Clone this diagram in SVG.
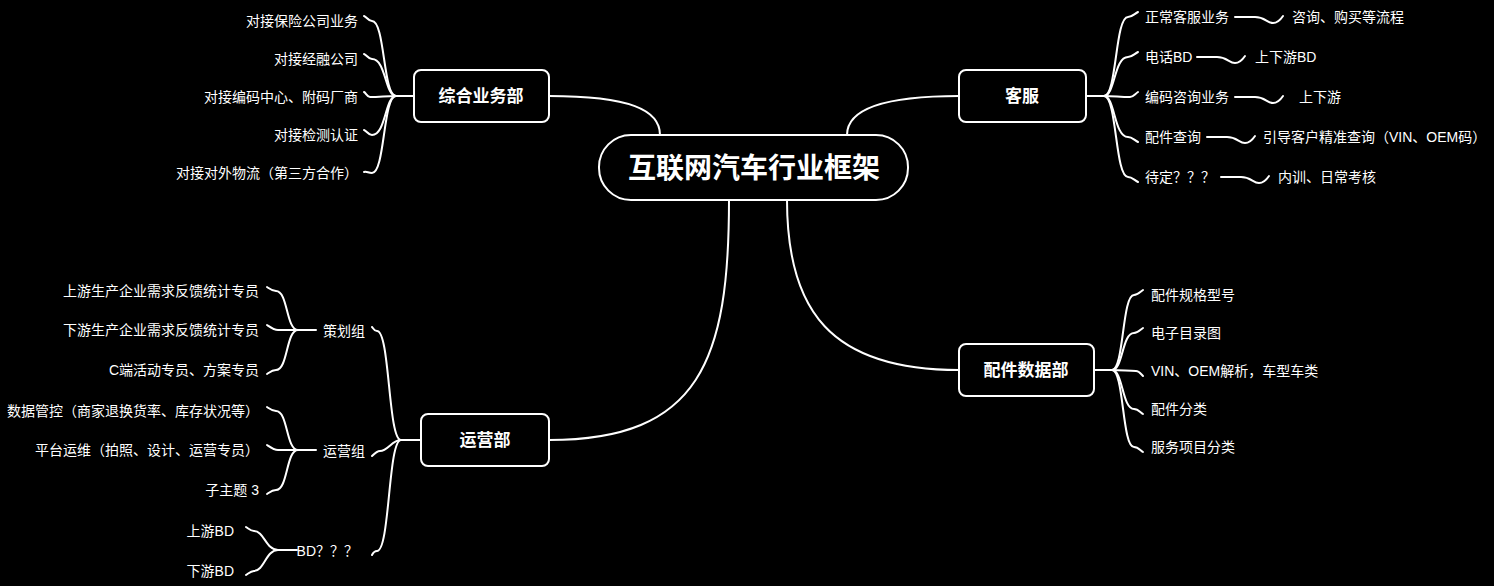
<svg xmlns="http://www.w3.org/2000/svg" width="1494" height="586" viewBox="0 0 1494 586">
<style>
text{font-family:"Liberation Sans","Noto Sans CJK SC",sans-serif;fill:#fff;font-size:14px}
.n{fill:#000;stroke:#fff;stroke-width:2}
.t{font-size:17px;font-weight:bold;text-anchor:middle}
.r{text-anchor:end}
path{fill:none;stroke:#fff;stroke-width:2;stroke-linecap:round}
</style>
<rect width="1494" height="586" fill="#000"/>
<g id="connectors">
<path d="M660,135 C660,110 630,96 549,96"/>
<path d="M847,135 C847,110 880,96 959,96"/>
<path d="M787,200 C787,310 830,370 959,370"/>
<path d="M729,200 C729,360 700,440 549,440"/>
<path d="M414,96 L396,96 C383,96 385,21 372,21 C368,21 367,17 364,16"/>
<path d="M396,96 C385,96 386,59 372,59 C368,59 367,55 364,54"/>
<path d="M396,96 C386,96 380,97 370,97 C367,97 366,93 364,92"/>
<path d="M396,96 C385,96 386,135 372,135 C368,135 367,131 364,130"/>
<path d="M396,96 C383,96 385,173 372,173 C368,173 367,171 364,172"/>
<path d="M1086,96 L1104,96 C1117,96 1115,17 1128,17 C1132,17 1134,14 1138,12"/>
<path d="M1104,96 C1115,96 1114,57 1128,57 C1132,57 1134,54 1138,52"/>
<path d="M1104,96 C1114,96 1120,97 1130,97 C1133,97 1135,94 1138,92"/>
<path d="M1104,96 C1115,96 1114,137 1128,137 C1132,137 1134,140 1138,142"/>
<path d="M1104,96 C1117,96 1115,177 1128,177 C1132,177 1134,180 1138,182"/>
<path d="M1235,17 L1255,17 C1265,17 1267,23 1273,23 C1277,23 1281,19 1283,16"/>
<path d="M1197,57 L1217,57 C1227,57 1229,63 1235,63 C1239,63 1243,59 1245,56"/>
<path d="M1235,97 L1255,97 C1265,97 1267,103 1273,103 C1277,103 1281,99 1283,96"/>
<path d="M1207,137 L1227,137 C1237,137 1239,143 1245,143 C1249,143 1253,139 1255,136"/>
<path d="M1221,177 L1241,177 C1251,177 1253,183 1259,183 C1263,183 1267,179 1269,176"/>
<path d="M1094,370 L1112,370 C1124,370 1122,295 1134,295 C1138,295 1140,292 1143,290"/>
<path d="M1112,370 C1123,370 1122,333 1134,333 C1138,333 1140,330 1143,328"/>
<path d="M1112,370 C1122,370 1128,371 1136,371 C1139,371 1141,374 1143,376"/>
<path d="M1112,370 C1123,370 1122,409 1134,409 C1138,409 1140,412 1143,414"/>
<path d="M1112,370 C1124,370 1122,447 1134,447 C1138,447 1140,450 1143,452"/>
<path d="M421,440 L401,440 C388,440 390,331 377,331 C374,331 373,328 372,327"/>
<path d="M401,440 C392,440 388,451 380,451 C377,451 374,454 372,456"/>
<path d="M401,440 C388,440 390,551 377,551 C374,551 373,553 372,555"/>
<path d="M316,330 L298,330 C286,330 288,291 276,291 C272,291 270,289 267,287"/>
<path d="M298,330 C290,330 286,330 278,330 C274,330 270,327 267,325"/>
<path d="M298,330 C286,330 288,370 276,370 C272,370 270,372 267,374"/>
<path d="M316,450 L298,450 C286,450 288,411 276,411 C272,411 270,409 267,407"/>
<path d="M298,450 C290,450 286,450 278,450 C274,450 270,447 267,445"/>
<path d="M298,450 C286,450 288,490 276,490 C272,490 270,492 267,494"/>
<path d="M297,550 L278,550 C266,550 264,531 254,531 C251,531 249,529 246,527"/>
<path d="M278,550 C266,550 264,571 254,571 C251,571 249,573 246,575"/>
</g>
<g id="center"><rect class="n" x="599" y="135" width="309" height="65" rx="32"/><text class="t" x="754" y="178" style="font-size:28px">互联网汽车行业框架</text></g>
<g id="zonghe"><rect class="n" x="414" y="70" width="135" height="52" rx="7"/><text class="t" x="481" y="102">综合业务部</text></g>
<g id="kefu"><rect class="n" x="959" y="70" width="127" height="52" rx="7"/><text class="t" x="1022" y="102">客服</text></g>
<g id="peijian"><rect class="n" x="959" y="344" width="135" height="52" rx="7"/><text class="t" x="1026" y="376">配件数据部</text></g>
<g id="yunying"><rect class="n" x="421" y="414" width="128" height="52" rx="7"/><text class="t" x="485" y="446">运营部</text></g>
<g id="zonghe-children">
<text class="r" x="358" y="26">对接保险公司业务</text>
<text class="r" x="358" y="64">对接经融公司</text>
<text class="r" x="358" y="102">对接编码中心、附码厂商</text>
<text class="r" x="358" y="140">对接检测认证</text>
<text class="r" x="358" y="178">对接对外物流（第三方合作）</text>
</g>
<g id="kefu-children">
<text x="1145" y="22">正常客服业务</text><text x="1292" y="22">咨询、购买等流程</text>
<text x="1145" y="62">电话BD</text><text x="1255" y="62">上下游BD</text>
<text x="1145" y="102">编码咨询业务</text><text x="1299" y="102">上下游</text>
<text x="1145" y="142">配件查询</text><text x="1263" y="142">引导客户精准查询（VIN、OEM码）</text>
<text x="1145" y="182">待定？？？</text><text x="1278" y="182">内训、日常考核</text>
</g>
<g id="peijian-children">
<text x="1151" y="300">配件规格型号</text>
<text x="1151" y="338">电子目录图</text>
<text x="1151" y="376">VIN、OEM解析，车型车类</text>
<text x="1151" y="414">配件分类</text>
<text x="1151" y="452">服务项目分类</text>
</g>
<g id="yunying-children">
<text class="r" x="365" y="336">策划组</text>
<text class="r" x="365" y="456">运营组</text>
<text class="r" x="358" y="556">BD？？？</text>
<text class="r" x="259" y="296">上游生产企业需求反馈统计专员</text>
<text class="r" x="259" y="335">下游生产企业需求反馈统计专员</text>
<text class="r" x="259" y="375">C端活动专员、方案专员</text>
<text class="r" x="259" y="416">数据管控（商家退换货率、库存状况等）</text>
<text class="r" x="259" y="455">平台运维（拍照、设计、运营专员）</text>
<text class="r" x="259" y="495">子主题 3</text>
<text class="r" x="234" y="536">上游BD</text>
<text class="r" x="234" y="576">下游BD</text>
</g>
</svg>
